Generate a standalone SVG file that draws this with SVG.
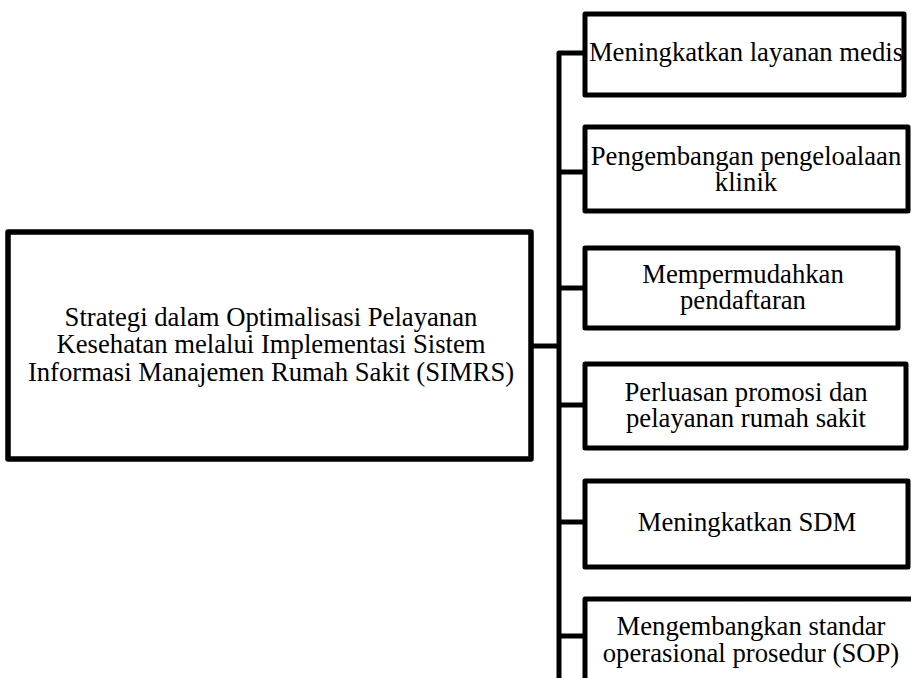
<svg xmlns="http://www.w3.org/2000/svg" width="911" height="678" viewBox="0 0 911 678">
<style>
.box{fill:#fff;stroke:#000;stroke-width:5;stroke-linejoin:round}
.main{stroke-width:5.5}
.t{font-family:"Liberation Serif","Times New Roman",serif;font-size:26.7px;fill:#000;text-anchor:middle}
.con{fill:none;stroke:#000;stroke-width:5;stroke-linejoin:round}
</style>
<rect width="911" height="678" fill="#fff"/>
<g id="connectors">
<path class="con" d="M531,346 H559"/>
<path class="con" d="M585,53 H559 V680"/>
<path class="con" d="M559,172 H585"/>
<path class="con" d="M559,288 H585"/>
<path class="con" d="M559,405 H585"/>
<path class="con" d="M559,522 H585"/>
<path class="con" d="M559,636 H585"/>
</g>
<g id="main">
<rect class="box main" x="8" y="232" width="523" height="227"/>
<text class="t" x="271" y="326">Strategi dalam Optimalisasi Pelayanan</text>
<text class="t" x="271" y="353">Kesehatan melalui Implementasi Sistem</text>
<text class="t" x="271" y="381">Informasi Manajemen Rumah Sakit (SIMRS)</text>
</g>
<g id="n1">
<rect class="box" x="585" y="14" width="319" height="81"/>
<text class="t" x="746" y="61">Meningkatkan layanan medis</text>
</g>
<g id="n2">
<rect class="box" x="585" y="127" width="323" height="84"/>
<text class="t" x="746" y="165">Pengembangan pengeloalaan</text>
<text class="t" x="746" y="191">klinik</text>
</g>
<g id="n3">
<rect class="box" x="585" y="248" width="313" height="80"/>
<text class="t" x="743" y="283">Mempermudahkan</text>
<text class="t" x="743" y="309">pendaftaran</text>
</g>
<g id="n4">
<rect class="box" x="585" y="364" width="321" height="84"/>
<text class="t" x="746" y="401">Perluasan promosi dan</text>
<text class="t" x="746" y="427">pelayanan rumah sakit</text>
</g>
<g id="n5">
<rect class="box" x="585" y="481" width="323" height="86"/>
<text class="t" x="747" y="531">Meningkatkan SDM</text>
</g>
<g id="n6">
<rect class="box" x="585" y="599" width="332" height="100"/>
<text class="t" x="751" y="635">Mengembangkan standar</text>
<text class="t" x="751" y="662">operasional prosedur (SOP)</text>
</g>
</svg>
